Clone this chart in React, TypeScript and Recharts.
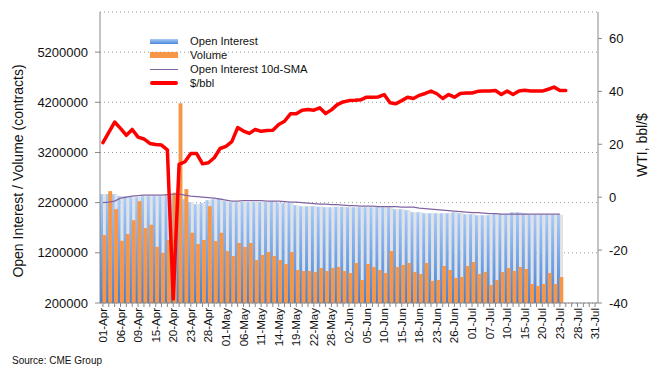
import {
  ComposedChart,
  Bar,
  Line,
  XAxis,
  YAxis,
  CartesianGrid,
  Legend,
} from "recharts";

const FONT = '"Liberation Sans", Arial, sans-serif';

const dates = [
  "01-Apr", "02-Apr", "03-Apr", "06-Apr", "07-Apr", "08-Apr", "09-Apr", "13-Apr", "14-Apr", "15-Apr",
  "16-Apr", "17-Apr", "20-Apr", "21-Apr", "22-Apr", "23-Apr", "24-Apr", "27-Apr", "28-Apr", "29-Apr", "30-Apr",
  "01-May", "04-May", "05-May", "06-May", "07-May", "08-May", "11-May", "12-May", "13-May", "14-May",
  "15-May", "18-May", "19-May", "20-May", "21-May", "22-May", "26-May", "27-May", "28-May", "29-May",
  "01-Jun", "02-Jun", "03-Jun", "04-Jun", "05-Jun", "08-Jun", "09-Jun", "10-Jun", "11-Jun", "12-Jun",
  "15-Jun", "16-Jun", "17-Jun", "18-Jun", "19-Jun", "22-Jun", "23-Jun", "24-Jun", "25-Jun", "26-Jun",
  "29-Jun", "30-Jun",
  "01-Jul", "02-Jul", "06-Jul", "07-Jul", "08-Jul", "09-Jul", "10-Jul", "13-Jul", "14-Jul", "15-Jul",
  "16-Jul", "17-Jul", "20-Jul", "21-Jul", "22-Jul", "23-Jul", "24-Jul", "27-Jul", "28-Jul", "29-Jul",
  "30-Jul", "31-Jul",
];

// open interest, contracts (last print 23-Jul)
const openInterest = [
  2370000, 2370000, 2370000, 2330000, 2330000, 2310000, 2310000, 2330000, 2330000, 2330000,
  2330000, 2350000, 2370000, 2350000, 2270000, 2210000, 2170000, 2190000, 2250000, 2270000, 2290000,
  2230000, 2210000, 2210000, 2210000, 2210000, 2210000, 2210000, 2210000, 2230000, 2200000,
  2190000, 2190000, 2150000, 2130000, 2130000, 2130000, 2120000, 2110000, 2110000, 2120000,
  2120000, 2110000, 2110000, 2110000, 2110000, 2110000, 2110000, 2110000, 2110000, 2070000,
  2070000, 2050000, 2010000, 2010000, 1990000, 1990000, 1990000, 1990000, 1990000, 2010000,
  1990000, 1970000, 1970000, 1950000, 1950000, 1950000, 1970000, 1970000, 1970000, 2010000,
  2010000, 1990000, 1960000, 1960000, 1960000, 1960000, 1960000, 1960000,
];

const volume = [
  1555000, 2430000, 2070000, 1440000, 1575000, 1850000, 2230000, 1695000, 1760000, 1320000,
  1200000, 1455000, 2400000, 4180000, 2470000, 1600000, 1376000, 1455000, 2130000, 1435000, 1600000,
  1236000, 1137000, 1396000, 1316000, 1396000, 1057000, 1157000, 1217000, 1137000, 1057000,
  977000, 1217000, 858000, 838000, 838000, 818000, 898000, 838000, 898000, 918000,
  838000, 798000, 997000, 658000, 977000, 918000, 858000, 798000, 1236000, 918000,
  957000, 997000, 818000, 778000, 997000, 638000, 658000, 938000, 858000, 698000,
  718000, 938000, 1017000, 778000, 818000, 559000, 658000, 818000, 898000, 838000,
  918000, 878000, 579000, 539000, 579000, 798000, 579000, 718000,
];

// open interest 10-day simple moving average
const oiSma = [
  2200000, 2210000, 2230000, 2290000, 2310000, 2330000, 2340000, 2350000, 2350000, 2350000,
  2350000, 2360000, 2370000, 2370000, 2350000, 2330000, 2320000, 2310000, 2300000, 2290000, 2270000,
  2250000, 2230000, 2230000, 2240000, 2240000, 2240000, 2240000, 2230000, 2230000, 2230000,
  2220000, 2210000, 2210000, 2200000, 2190000, 2180000, 2170000, 2170000, 2160000, 2160000,
  2150000, 2140000, 2140000, 2130000, 2130000, 2130000, 2120000, 2120000, 2120000, 2120000,
  2110000, 2110000, 2110000, 2090000, 2080000, 2070000, 2060000, 2050000, 2040000, 2030000,
  2020000, 2010000, 2000000, 2000000, 1990000, 1980000, 1980000, 1970000, 1970000, 1970000,
  1970000, 1970000, 1970000, 1970000, 1970000, 1970000, 1970000, 1970000,
];

// WTI front month, $/bbl (last print 24-Jul)
const wti = [
  20.6, 24.5, 28.4, 26.0, 23.4, 25.6, 22.7, 22.0, 20.3, 19.9,
  19.7, 17.9, -38.5, 12.4, 13.4, 16.5, 16.5, 12.6, 13.0, 14.9, 18.4,
  19.2, 21.0, 26.3, 25.0, 24.1, 25.6, 24.9, 25.2, 25.3, 27.5,
  28.7, 31.5, 31.5, 32.9, 33.1, 32.9, 33.8, 31.6, 33.0, 35.0,
  36.0, 36.5, 36.6, 36.8, 37.8, 37.8, 37.9, 38.8, 35.7, 35.3,
  36.5, 37.8, 37.3, 38.5, 39.2, 40.1, 39.1, 37.3, 38.8, 37.8,
  39.2, 39.4, 39.4, 40.0, 40.1, 40.1, 40.3, 38.8, 40.1, 38.8,
  40.1, 40.4, 40.1, 40.1, 40.1, 40.8, 41.6, 40.3, 40.3,
];

const leftTicks = [200000, 1200000, 2200000, 3200000, 4200000, 5200000];
const rightTicks = [-40, -20, 0, 20, 40, 60];

const data = dates.map((date, i) => ({
  date,
  oi: openInterest[i],
  volume: volume[i],
  sma: oiSma[i],
  price: wti[i],
}));

// blue bar with the light grey "shadow" strip excel draws to its right
function OiBar(props: any) {
  const { x, y, width, height } = props;
  if (!height || height <= 0) return null;
  return (
    <g>
      <rect x={x + width} y={y} width={width} height={height} fill="#e2e2e2" />
      <rect x={x} y={y} width={width} height={height} fill="url(#oiGrad)" />
    </g>
  );
}

// orange bar, a touch wider so it overlaps the blue one like the original
function VolBar(props: any) {
  const { x, y, width, height } = props;
  if (!height || height <= 0) return null;
  return (
    <rect x={x - 0.6} y={y} width={width + 0.9} height={height} fill="#f79646" />
  );
}

function DateTick(props: any) {
  const { x, y, payload, index } = props;
  if (index % 3 !== 0) return <g />;
  return (
    <text
      x={x}
      y={y}
      transform={`rotate(-90, ${x}, ${y})`}
      textAnchor="end"
      dy="0.35em"
      fontSize={11.5}
      fontFamily={FONT}
      fill="#111"
    >
      {payload.value}
    </text>
  );
}

const legendRows = [
  { label: "Open Interest", kind: "oi" },
  { label: "Volume", kind: "vol" },
  { label: "Open Interest 10d-SMA", kind: "sma" },
  { label: "$/bbl", kind: "price" },
];

function ChartLegend() {
  return (
    <div style={{ fontFamily: FONT, fontSize: 11.2, color: "#111" }}>
      {legendRows.map((row) => (
        <div
          key={row.label}
          style={{ display: "flex", alignItems: "center", height: 14 }}
        >
          <div
            style={{
              width: 28,
              marginRight: 12,
              display: "flex",
              alignItems: "center",
            }}
          >
            {row.kind === "oi" && (
              <div
                style={{
                  width: 28,
                  height: 5,
                  background: "linear-gradient(#a8cbf8, #4a86d8)",
                }}
              />
            )}
            {row.kind === "vol" && (
              <div style={{ width: 28, height: 6, background: "#f79646" }} />
            )}
            {row.kind === "sma" && (
              <div style={{ width: 28, height: 1, background: "#8064a2" }} />
            )}
            {row.kind === "price" && (
              <div
                style={{
                  width: 28,
                  height: 4,
                  background: "#ff0000",
                  borderRadius: 2,
                }}
              />
            )}
          </div>
          <span>{row.label}</span>
        </div>
      ))}
    </div>
  );
}

export default function App() {
  return (
    <div
      style={{
        position: "absolute",
        left: 0,
        top: 0,
        width: 664,
        height: 379,
        background: "#fff",
        fontFamily: FONT,
      }}
    >
      <ComposedChart
        width={664}
        height={379}
        data={data}
        margin={{ top: 12, right: 10, left: 10, bottom: 26 }}
        barCategoryGap={0}
        barGap={0}
      >
        <defs>
          <linearGradient id="oiGrad" x1="0" y1="0" x2="0" y2="1">
            <stop offset="0%" stopColor="#a9cbf9" />
            <stop offset="100%" stopColor="#4280d6" />
          </linearGradient>
        </defs>
        <CartesianGrid
          yAxisId="left"
          xAxisId="x"
          vertical={false}
          stroke="#9a9a9a"
          strokeDasharray="1 3"
        />
        <XAxis
          xAxisId="x"
          dataKey="date"
          interval={0}
          height={50}
          tick={<DateTick />}
          tickSize={4}
          tickMargin={1}
          axisLine={{ stroke: "#888" }}
          tickLine={{ stroke: "#888" }}
        />
        <YAxis
          yAxisId="left"
          width={90}
          domain={[200000, 6000000]}
          ticks={leftTicks}
          interval={0}
          tickSize={5}
          tickMargin={7}
          tick={{ fontSize: 13, fill: "#111", fontFamily: FONT }}
          axisLine={{ stroke: "#888" }}
          tickLine={{ stroke: "#888" }}
        />
        <YAxis
          yAxisId="right"
          orientation="right"
          width={56}
          domain={[-40, 70]}
          ticks={rightTicks}
          interval={0}
          tickSize={4}
          tickMargin={7}
          tick={{ fontSize: 13, fill: "#111", fontFamily: FONT }}
          axisLine={{ stroke: "#888" }}
          tickLine={{ stroke: "#888" }}
        />
        <Legend
          layout="horizontal"
          verticalAlign="middle"
          align="center"
          content={<ChartLegend />}
          wrapperStyle={{ left: 150, top: 34, width: 220 }}
        />
        <Bar
          xAxisId="x"
          yAxisId="left"
          dataKey="oi"
          name="Open Interest"
          shape={<OiBar />}
          isAnimationActive={false}
        />
        <Bar
          xAxisId="x"
          yAxisId="left"
          dataKey="volume"
          name="Volume"
          fill="#f79646"
          shape={<VolBar />}
          isAnimationActive={false}
        />
        <Line
          xAxisId="x"
          yAxisId="left"
          dataKey="sma"
          name="Open Interest 10d-SMA"
          stroke="#8064a2"
          strokeWidth={1.2}
          dot={false}
          isAnimationActive={false}
        />
        <Line
          xAxisId="x"
          yAxisId="right"
          dataKey="price"
          name="$/bbl"
          stroke="#ff0000"
          strokeWidth={3.5}
          strokeLinejoin="round"
          strokeLinecap="round"
          dot={false}
          isAnimationActive={false}
        />
      </ComposedChart>
      <div
        style={{
          position: "absolute",
          left: 18,
          top: 171,
          transform: "translate(-50%, -50%) rotate(-90deg)",
          whiteSpace: "nowrap",
          fontSize: 14,
          color: "#111",
        }}
      >
        Open Interest / Volume (contracts)
      </div>
      <div
        style={{
          position: "absolute",
          left: 642,
          top: 145,
          transform: "translate(-50%, -50%) rotate(-90deg)",
          whiteSpace: "nowrap",
          fontSize: 14,
          color: "#111",
        }}
      >
        WTI, bbl/$
      </div>
      <div
        style={{
          position: "absolute",
          left: 12,
          top: 355,
          fontSize: 10,
          color: "#111",
        }}
      >
        Source: CME Group
      </div>
    </div>
  );
}
